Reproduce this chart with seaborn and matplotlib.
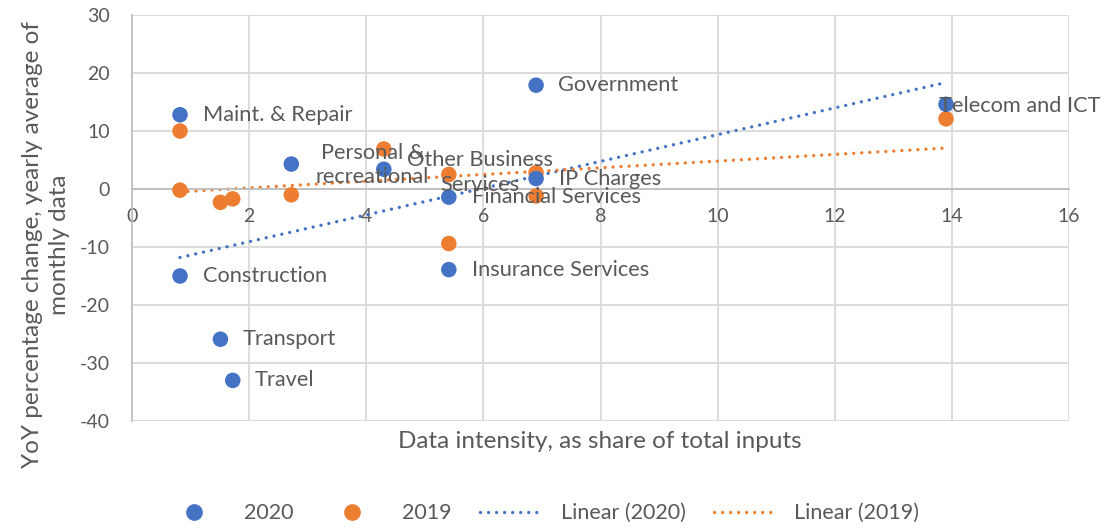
import numpy as np
import pandas as pd
import matplotlib
matplotlib.use("Agg")
import matplotlib.pyplot as plt
import seaborn as sns
from matplotlib.lines import Line2D

# ---- data ----
categories = ["Maint. & Repair", "Construction", "Transport", "Travel",
              "Personal &\nrecreational", "Other Business\nServices",
              "Financial Services", "Insurance Services", "Government",
              "IP Charges", "Telecom and ICT"]
data_intensity = [0.82, 0.82, 1.51, 1.72, 2.72, 4.30, 5.41, 5.41, 6.90, 6.90, 13.90]
yoy_2020 = [12.8, -15.0, -25.9, -33.0, 4.3, 3.4, -1.4, -13.9, 17.9, 1.8, 14.6]
yoy_2019 = [10.0, -0.2, -2.3, -1.7, -1.0, 6.9, 2.5, -9.4, 2.8, -1.2, 12.1]
x_ticks = [0, 2, 4, 6, 8, 10, 12, 14, 16]
y_ticks = [-40, -30, -20, -10, 0, 10, 20, 30]

# label offsets (pixels) and alignment, styling only
label_offsets = [(23, 0), (23, 0), (22, 0), (22, 0), (81, -1), (96, -3),
                 (23, 0), (23, 0), (22, 0), (23, 0), (-7, -2)]
label_ha = ["left", "left", "left", "left", "center", "center",
            "left", "left", "left", "left", "left"]

BLUE = "#4472C4"
ORANGE = "#ED7D31"
TXT = "#595959"
GRID = "#D9D9D9"

sns.set_theme(style="white")
plt.rcParams["font.family"] = ["Lato", "DejaVu Sans"]
plt.rcParams["axes.unicode_minus"] = False

df = pd.DataFrame({
    "x": data_intensity * 2,
    "y": yoy_2020 + yoy_2019,
    "year": ["2020"] * len(categories) + ["2019"] * len(categories),
})

fig = plt.figure(figsize=(11.05, 5.30), dpi=100)
ax = fig.add_axes([132 / 1105, 1 - 421 / 530, (1069 - 132) / 1105, (421 - 15) / 530])

dot_ls = (0, (0.01, 2.4))
sns.regplot(x=data_intensity, y=yoy_2020, scatter=False, ci=None, ax=ax,
            line_kws=dict(color=BLUE, lw=2.4, ls=dot_ls, dash_capstyle="round"))
sns.regplot(x=data_intensity, y=yoy_2019, scatter=False, ci=None, ax=ax,
            line_kws=dict(color=ORANGE, lw=2.4, ls=dot_ls, dash_capstyle="round"))

sns.scatterplot(data=df[df.year == "2019"], x="x", y="y", color=ORANGE, s=125,
                edgecolor="none", ax=ax, legend=False, zorder=3)
sns.scatterplot(data=df[df.year == "2020"], x="x", y="y", color=BLUE, s=125,
                edgecolor="none", ax=ax, legend=False, zorder=4)

for name, xv, yv, off, ha in zip(categories, data_intensity, yoy_2020, label_offsets, label_ha):
    ax.annotate(name, (xv, yv), xytext=off, textcoords="offset pixels",
                ha=ha, va="center", multialignment="center", linespacing=1.3,
                fontsize=15.7, color=TXT, zorder=5)

ax.set_xlim(0, 16)
ax.set_ylim(-40, 30)
ax.set_xticks(x_ticks)
ax.set_yticks(y_ticks)
ax.set_xlabel("")
ax.set_ylabel("")
ax.grid(True, color=GRID, lw=1.3)
ax.set_axisbelow(True)
for s in ["top", "right"]:
    ax.spines[s].set_visible(False)
ax.spines["bottom"].set_position(("data", 0))
ax.spines["bottom"].set_color("#BFBFBF")
ax.spines["bottom"].set_linewidth(1.3)
ax.spines["left"].set_color("#BFBFBF")
ax.spines["left"].set_linewidth(1.3)
ax.tick_params(axis="both", length=0, labelsize=14, labelcolor=TXT)
ax.tick_params(axis="x", pad=14)
ax.tick_params(axis="y", pad=16)

fig.text(600 / 1105, 1 - 441 / 530, "Data intensity, as share of total inputs",
         ha="center", va="center", fontsize=17.5, color=TXT)
fig.text(46 / 1105, 1 - 245 / 530, "YoY percentage change, yearly average of\nmonthly data",
         ha="center", va="center", rotation=90, multialignment="center",
         linespacing=1.3, fontsize=17.5, color=TXT)

handles = [
    Line2D([], [], ls="none", marker="o", color=BLUE, markersize=11),
    Line2D([], [], ls="none", marker="o", color=ORANGE, markersize=11),
    Line2D([], [], color=BLUE, lw=2.4, ls=dot_ls, dash_capstyle="round"),
    Line2D([], [], color=ORANGE, lw=2.4, ls=dot_ls, dash_capstyle="round"),
]
labels = ["2020", "2019", "Linear (2020)", "Linear (2019)"]
leg = fig.legend(handles, labels, loc="center", bbox_to_anchor=(0.49, 0.032),
                 ncol=4, frameon=False, fontsize=15.5, handlelength=2.85,
                 columnspacing=1.3, handletextpad=0.9)
for t in leg.get_texts():
    t.set_color(TXT)

fig.savefig("out.png", dpi=100)
